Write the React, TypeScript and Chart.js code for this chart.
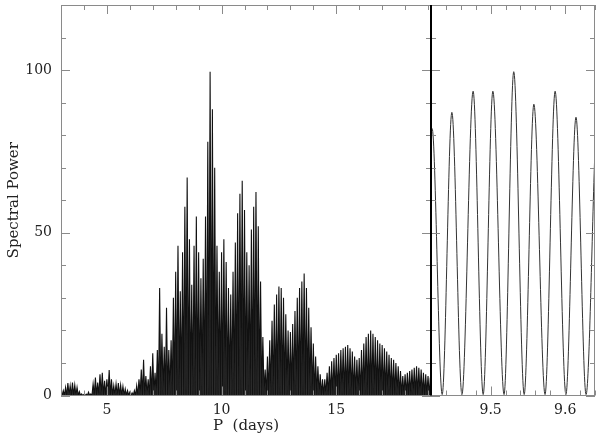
import React, { useEffect, useRef } from "react";
import { Chart, registerables } from "chart.js";

Chart.register(...registerables);

// ---------- data ----------
// Left panel: periodogram envelope (peak power) sampled every 0.1 day from 3.0 d
const LEFT_START = 3.0;
const LEFT_STEP = 0.1;
const leftEnvelope = [
  0.5, 1.5, 2.5, 3.8, 3, 4, 3.2, 2.5, 1.2, 0.5, // 3.0-3.9
  0.3, 0.4, 1, 0.5, 3.5, 5.5, 4, 6.5, 7, 4.5, // 4.0-4.9
  5, 7.8, 5, 3, 3.5, 3.8, 3.2, 2.8, 2, 1.5, // 5.0-5.9
  1, 0.8, 1.5, 3, 5, 8, 11, 6, 5, 9, // 6.0-6.9
  13, 7, 14, 33, 19, 15, 27, 14, 17, 30, // 7.0-7.9
  38, 46, 32, 44, 58, 67, 48, 34, 46, 55, // 8.0-8.9
  44, 36, 42, 55, 78, 99.5, 88, 70, 46, 38, // 9.0-9.9
  44, 48, 41, 33, 31, 38, 47, 56, 62, 66, // 10.0-10.9
  57, 44, 40, 51, 58, 62.5, 52, 35, 18, 8, // 11.0-11.9
  12, 17, 23, 28, 31, 33.5, 33, 30, 25, 20, // 12.0-12.9
  19.5, 22, 26, 30, 33, 35, 37.5, 33, 27, 21, // 13.0-13.9
  16, 12, 9, 6.5, 5, 5, 7, 9, 10.5, 11.5, // 14.0-14.9
  12.5, 13, 14, 14.5, 15, 15.5, 14.5, 13.5, 12, 11, // 15.0-15.9
  11.5, 14, 16, 18, 19, 20, 19, 18, 17, 16, // 16.0-16.9
  15.5, 14.5, 13.5, 12.5, 11.5, 11, 10, 9, 7.5, 6, // 17.0-17.9
  6.5, 7, 7.5, 8, 8.5, 9, 8.5, 8, 7, 6.5, // 18.0-18.9
  6, 5.5, // 19.0-19.1
];
const TROUGH_POWER = 0; // oscillation minima reach ~0

// Right panel: zoom on 9.42-9.64 d, alternating maxima / minima
const rightPeriods = [
  9.42, 9.4215, 9.435, 9.448, 9.4615, 9.4765, 9.49, 9.503, 9.518,
  9.531, 9.545, 9.558, 9.573, 9.5865, 9.601, 9.6145, 9.628, 9.64,
];
const rightPower = [
  81, 82, 0.3, 87, 0.3, 93.5, 0.3, 93.5, 0.3,
  99.5, 0.3, 89.5, 0.3, 93.5, 0.3, 85.5, 0.3, 76,
];

const leftXTickLabels = [5, 10, 15];
const rightXTickLabels = [9.5, 9.6];
const yTickLabels = [0, 50, 100];

const LEFT_RANGE = [3.0, 19.13];
const RIGHT_RANGE = [9.42, 9.64];
const Y_RANGE = [0, 120];

// ---------- styling ----------
const W = 600;
const H = 438;
const PLOT_TOP = 5;
const X_AXIS_H = 42.5;
const Y_AXIS_W = 61;
const SPLIT_X = 431;
const PLOT_RIGHT = 595;
const FRAME = "#8a8a8a";
const DARK_EDGE = "#000";
const TEXT = "#222";
const FONT = "'DejaVu Serif', serif";
const MAJOR_LEN = 9;
const MINOR_LEN = 5;

function eachTick(min: number, max: number, minor: number, major: number, fn: (v: number, isMajor: boolean) => void) {
  const k0 = Math.ceil(min / minor - 1e-6);
  const k1 = Math.floor(max / minor + 1e-6);
  for (let k = k0; k <= k1; k++) {
    const v = k * minor;
    const r = v / major;
    fn(v, Math.abs(r - Math.round(r)) < 1e-6);
  }
}

function framePlugin(o: { xMinor: number; xMajor: number; leftEdge: string | null; rightEdge: string | null }) {
  return {
    id: "frameTicks",
    afterDraw(chart: any) {
      const { ctx, chartArea: a } = chart;
      const xs = chart.scales.x;
      const ys = chart.scales.y;
      const c = (v: number) => Math.round(v) + 0.5;
      ctx.save();
      ctx.lineWidth = 1;
      ctx.strokeStyle = FRAME;
      ctx.beginPath();
      eachTick(xs.min, xs.max, o.xMinor, o.xMajor, (v, m) => {
        const px = c(xs.getPixelForValue(v));
        const len = m ? MAJOR_LEN : MINOR_LEN;
        ctx.moveTo(px, a.top);
        ctx.lineTo(px, a.top + len);
        ctx.moveTo(px, a.bottom);
        ctx.lineTo(px, a.bottom - len);
      });
      eachTick(ys.min, ys.max, 10, 50, (v, m) => {
        const py = c(ys.getPixelForValue(v));
        const len = m ? MAJOR_LEN : MINOR_LEN;
        ctx.moveTo(a.left, py);
        ctx.lineTo(a.left + len, py);
        ctx.moveTo(a.right, py);
        ctx.lineTo(a.right - len, py);
      });
      ctx.stroke();
      ctx.beginPath();
      ctx.moveTo(a.left, c(a.top));
      ctx.lineTo(a.right, c(a.top));
      ctx.moveTo(a.left, a.bottom);
      ctx.lineTo(a.right, a.bottom);
      ctx.stroke();
      if (o.leftEdge) {
        ctx.strokeStyle = o.leftEdge;
        ctx.lineWidth = 1;
        ctx.beginPath();
        ctx.moveTo(c(a.left), a.top);
        ctx.lineTo(c(a.left), a.bottom);
        ctx.stroke();
      }
      if (o.rightEdge) {
        const dark = o.rightEdge === DARK_EDGE;
        ctx.strokeStyle = o.rightEdge;
        ctx.lineWidth = dark ? 2 : 1;
        const x = dark ? Math.round(a.right) : c(a.right) - 1;
        ctx.beginPath();
        ctx.moveTo(x, a.top);
        ctx.lineTo(x, a.bottom);
        ctx.stroke();
      }
      ctx.restore();
    },
  };
}

const noPadH = (s: any) => {
  s.paddingLeft = 0;
  s.paddingRight = 0;
};
const noPadV = (s: any) => {
  s.paddingTop = 0;
  s.paddingBottom = 0;
};

export default function App() {
  const leftRef = useRef<HTMLCanvasElement>(null);
  const rightRef = useRef<HTMLCanvasElement>(null);

  useEffect(() => {
    const leftPoints: { x: number; y: number }[] = [];
    leftEnvelope.forEach((p, i) => {
      const x = LEFT_START + i * LEFT_STEP;
      leftPoints.push({ x, y: p });
      leftPoints.push({ x: x + LEFT_STEP / 2, y: TROUGH_POWER });
    });
    const rightPoints = rightPeriods.map((x, i) => ({ x, y: rightPower[i] }));

    const tickFont = { family: FONT, size: 14 };
    const titleFont = { family: FONT, size: 15 };

    const left = new Chart(leftRef.current!, {
      type: "line",
      data: {
        datasets: [
          {
            data: leftPoints,
            borderColor: "#111",
            backgroundColor: "#2e2e2e",
            borderWidth: 1.1,
            pointRadius: 0,
            tension: 0,
            fill: "origin",
          },
        ],
      },
      options: {
        animation: false,
        responsive: false,
        events: [],
        layout: { padding: { top: PLOT_TOP, right: W - SPLIT_X, left: 0, bottom: 0 } },
        plugins: { legend: { display: false }, tooltip: { enabled: false } },
        scales: {
          x: {
            type: "linear",
            min: LEFT_RANGE[0],
            max: LEFT_RANGE[1],
            grid: { display: false, drawTicks: false },
            border: { display: false },
            ticks: { color: TEXT, font: tickFont, padding: 6, maxRotation: 0 },
            afterBuildTicks: (s: any) => {
              s.ticks = leftXTickLabels.map((v) => ({ value: v }));
            },
            afterFit: (s: any) => {
              s.height = X_AXIS_H;
              noPadH(s);
            },
            title: { display: true, text: "P  (days)", color: TEXT, font: titleFont, padding: { top: 0, bottom: 3 } },
          },
          y: {
            type: "linear",
            min: Y_RANGE[0],
            max: Y_RANGE[1],
            grid: { display: false, drawTicks: false },
            border: { display: false },
            ticks: { color: TEXT, font: tickFont, padding: 9 },
            afterBuildTicks: (s: any) => {
              s.ticks = yTickLabels.map((v) => ({ value: v }));
            },
            afterFit: (s: any) => {
              s.width = Y_AXIS_W;
              noPadV(s);
            },
            title: { display: true, text: "Spectral Power", color: TEXT, font: titleFont, padding: { top: 5, bottom: 0 } },
          },
        },
      },
      plugins: [framePlugin({ xMinor: 1, xMajor: 5, leftEdge: FRAME, rightEdge: DARK_EDGE })],
    } as any);

    const right = new Chart(rightRef.current!, {
      type: "line",
      data: {
        datasets: [
          {
            data: rightPoints,
            borderColor: "#333",
            borderWidth: 1,
            pointRadius: 0,
            cubicInterpolationMode: "monotone",
            fill: false,
          },
        ],
      },
      options: {
        animation: false,
        responsive: false,
        events: [],
        layout: { padding: { top: PLOT_TOP, right: W - PLOT_RIGHT, left: SPLIT_X, bottom: 0 } },
        plugins: { legend: { display: false }, tooltip: { enabled: false } },
        scales: {
          x: {
            type: "linear",
            min: RIGHT_RANGE[0],
            max: RIGHT_RANGE[1],
            grid: { display: false, drawTicks: false },
            border: { display: false },
            ticks: { color: TEXT, font: tickFont, padding: 6, maxRotation: 0, callback: (v: any) => Number(v).toFixed(1) },
            afterBuildTicks: (s: any) => {
              s.ticks = rightXTickLabels.map((v) => ({ value: v }));
            },
            afterFit: (s: any) => {
              s.height = X_AXIS_H;
              noPadH(s);
            },
          },
          y: {
            type: "linear",
            display: false,
            min: Y_RANGE[0],
            max: Y_RANGE[1],
          },
        },
      },
      plugins: [framePlugin({ xMinor: 0.02, xMajor: 0.1, leftEdge: null, rightEdge: FRAME })],
    } as any);

    return () => {
      left.destroy();
      right.destroy();
    };
  }, []);

  const canvasStyle: React.CSSProperties = { position: "absolute", left: 0, top: 0, width: W, height: H };
  return (
    <div style={{ position: "fixed", left: 0, top: 0, width: W, height: H, background: "#fff" }}>
      <canvas ref={rightRef} width={W} height={H} style={canvasStyle} />
      <canvas ref={leftRef} width={W} height={H} style={canvasStyle} />
    </div>
  );
}
